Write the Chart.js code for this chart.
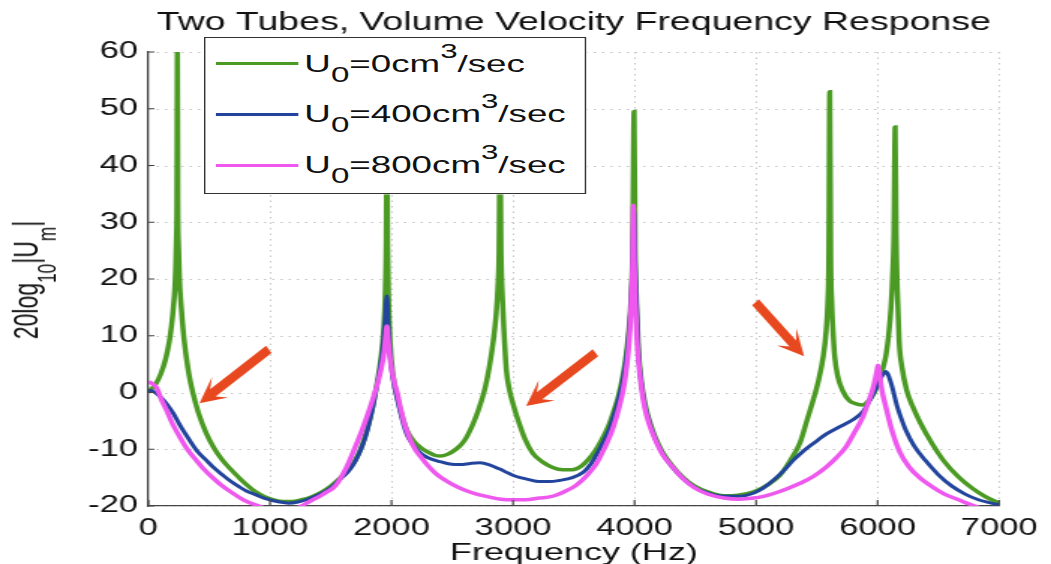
<!DOCTYPE html>
<html>
<head>
<meta charset="utf-8">
<script src="https://cdn.jsdelivr.net/npm/chart.js@4.4.1/dist/chart.umd.min.js"></script>
<style>
  html, body { margin: 0; padding: 0; background: #fff; overflow: hidden; }
  /* the source picture is stretched sideways, so draw narrow and stretch */
  #stage { position: absolute; left: 0; top: 0; width: 701px; height: 564px;
           transform: scaleX(1.4993); transform-origin: 0 0; }
  #stage canvas { position: absolute; left: 0; top: 0; }
  .legend { position: absolute; left: 136px; top: 37px; width: 255px; height: 157px;
            box-sizing: border-box; border: 1.3px solid #333; background: #fff;
            font-family: "Liberation Sans", Arial, sans-serif; font-size: 24.5px; color: #111; }
  .legend .swatch { position: absolute; left: 7px; width: 55px; height: 3px; }
  .legend .label { position: absolute; left: 66px; height: 24px; line-height: 24px; white-space: nowrap; }
  .sub { position: relative; top: 10px; font-size: 0.9em; }
  .sup { position: relative; top: -14px; font-size: 0.85em; }
  #ytitle { position: absolute; left: 19.4px; top: 280px; transform: translate(-50%, -50%) rotate(-90deg);
            font-family: "Liberation Sans", Arial, sans-serif; font-size: 23px; line-height: 23px;
            color: #111; white-space: nowrap; }
  #ytitle .sub { top: 12px; font-size: 0.75em; }
</style>
</head>
<body>
<div id="stage">
  <canvas id="chart" width="701" height="564"></canvas>
  <div id="ytitle">20log<span class="sub">10</span>|U<span class="sub">m</span>|</div>
  <div class="legend" id="legend"></div>
</div>
<script>
// [frequency Hz, dB]
const flowRates = ['0', '400', '800'];
const colors = ['#4b9a23', '#22449c', '#ee58ee'];

const green = [[0,0.1],[60,1.5],[100,3.2],[140,5.8],[170,8.8],[190,11.8],[205,15],[216,18],[224,22],
  [230,27],[234,33],[238,60.5],[242,33],[247,26],[255,20],[270,15],[290,10],[311,6.3],[335,3],[365,0],
  [410,-3.5],[474,-7.1],[540,-9.8],[608,-11.9],[680,-13.6],[745,-15],[810,-16.3],[881,-17.5],[950,-18.3],
  [1030,-18.9],[1110,-19.2],[1180,-19.2],[1260,-18.9],[1340,-18.4],[1422,-17.6],[1500,-16.5],[1570,-15.2],
  [1641,-13.7],[1700,-12],[1760,-9.2],[1800,-6.5],[1845,-2.5],[1880,1.5],[1913,6],[1935,11],[1948,17],
  [1956,26],[1962,45],[1968,26],[1976,16],[1990,8.5],[2010,3.5],[2050,-1],[2090,-4.3],[2130,-6.8],
  [2180,-8.5],[2240,-9.7],[2300,-10.5],[2360,-11.1],[2402,-11.2],[2460,-10.9],[2530,-10],[2580,-9],
  [2619,-7.8],[2665,-5.8],[2700,-4],[2735,-1.8],[2770,0.8],[2805,4.5],[2837,9],[2860,13.5],[2875,18.5],
  [2885,25],[2893,45],[2901,25],[2912,17],[2925,11],[2945,4],[2970,0.5],[3000,-2],[3040,-4.8],[3100,-8.3],
  [3162,-10.7],[3240,-12.2],[3326,-13.2],[3410,-13.6],[3488,-13.6],[3560,-13],[3620,-11.8],[3678,-10.2],
  [3730,-8.3],[3787,-5.8],[3830,-3.2],[3868,-0.6],[3900,2.5],[3930,6.5],[3955,11.5],[3972,17],[3984,25],
  [3996,49.5],[4005,25],[4016,16],[4031,8],[4050,3],[4086,-2],[4130,-5.5],[4167,-7.7],[4230,-10.5],
  [4303,-12.7],[4400,-15],[4493,-16.5],[4600,-17.5],[4737,-18.2],[4850,-18.1],[4982,-17.5],[5100,-16.2],
  [5199,-14.5],[5280,-12],[5362,-8.8],[5420,-4.8],[5470,-1.3],[5510,1.8],[5552,6.3],[5575,10.5],[5590,16],
  [5598,23],[5606,53],[5614,23],[5622,16],[5635,10],[5647,6.3],[5670,3],[5715,0.2],[5770,-1.5],[5823,-2],
  [5878,-2.2],[5920,-1.6],[5960,-0.5],[5986,0.6],[6020,2.5],[6050,4.8],[6068,6.5],[6090,10],[6110,15],
  [6124,21],[6134,28],[6144,46.8],[6152,28],[6162,18],[6177,9],[6200,4.5],[6240,0.3],[6285,-2.3],
  [6350,-5.3],[6448,-9],[6550,-12.2],[6666,-14.9],[6780,-16.9],[6882,-18.3],[7000,-19.5]];

const blue = [[0,0.4],[40,0.2],[94,-0.7],[150,-2],[202,-3.6],[260,-5.8],[338,-8.4],[400,-10.3],
  [474,-11.9],[540,-13.3],[608,-14.5],[680,-15.7],[745,-16.6],[810,-17.4],[881,-18],[950,-18.6],
  [1080,-19.3],[1153,-19.5],[1230,-19.3],[1300,-18.9],[1422,-17.8],[1500,-16.8],[1570,-15.4],[1641,-14],
  [1700,-12.2],[1760,-9.4],[1800,-6.8],[1845,-2.8],[1880,1.2],[1913,5.5],[1935,9.5],[1950,13.5],[1962,17],
  [1972,12.5],[1982,8.5],[1995,5],[2010,2.5],[2050,-1.5],[2090,-5],[2130,-7.6],[2180,-9.3],[2240,-10.7],
  [2300,-11.5],[2402,-12.2],[2480,-12.6],[2565,-12.7],[2650,-12.5],[2728,-12.4],[2800,-12.7],[2891,-13.5],
  [2960,-14.2],[3027,-14.8],[3120,-15.3],[3217,-15.7],[3300,-15.7],[3380,-15.5],[3488,-15],[3580,-14],
  [3640,-12.6],[3678,-11.3],[3730,-9.2],[3787,-6.7],[3830,-4],[3868,-1.2],[3900,1.8],[3930,5.8],
  [3955,11],[3972,16],[3984,23],[3994,32],[4004,23],[4016,15.5],[4031,7.5],[4050,2.6],[4086,-2.4],
  [4130,-5.8],[4167,-8],[4230,-10.8],[4303,-13],[4400,-15.2],[4493,-16.7],[4600,-17.7],[4737,-18.3],
  [4850,-18.3],[4982,-17.7],[5060,-16.8],[5145,-15.4],[5230,-13.7],[5308,-11.9],[5390,-10.3],[5470,-9],
  [5579,-7.3],[5700,-5.9],[5796,-4.8],[5878,-3.4],[5930,-1.6],[5960,-0.4],[5995,1.2],[6020,2.3],
  [6045,3.2],[6066,3.7],[6085,3.2],[6105,2],[6122,0.8],[6160,-2.4],[6200,-4.9],[6231,-6.6],[6300,-9.4],
  [6394,-12],[6500,-14.5],[6611,-16.5],[6720,-17.9],[6829,-18.9],[6920,-19.4],[7000,-19.8]];

const magenta = [[0,1.9],[30,1.6],[67,0.8],[110,-1.4],[148,-3.1],[200,-5.6],[257,-7.8],[320,-10],
  [392,-11.9],[460,-13.6],[528,-15],[610,-16.5],[691,-17.7],[780,-18.9],[881,-19.8],[1000,-20.6],
  [1100,-20.9],[1200,-20.5],[1260,-20],[1343,-19],[1400,-18.4],[1460,-17.6],[1520,-16.8],[1560,-15.8],
  [1630,-13.2],[1700,-9.7],[1760,-6.5],[1831,-2.2],[1880,1.2],[1913,4],[1938,7],[1952,9.8],[1962,11.7],
  [1972,9.5],[1985,6.5],[2000,4.2],[2025,1.6],[2050,-0.3],[2070,-2.4],[2105,-5.4],[2150,-8.1],[2200,-10.2],
  [2240,-11.3],[2300,-12.9],[2360,-14.2],[2430,-15.3],[2500,-16.2],[2600,-17.2],[2700,-17.9],[2800,-18.4],
  [2900,-18.8],[3000,-18.9],[3100,-18.9],[3217,-18.6],[3300,-18.4],[3352,-18.1],[3430,-17.4],[3515,-16.4],
  [3600,-14.8],[3678,-12.8],[3730,-10.8],[3787,-8.2],[3830,-5.8],[3868,-3],[3900,-0.2],[3923,2.6],
  [3945,6.5],[3963,11.5],[3976,17.5],[3984,23],[3990,33],[3997,23],[4006,16],[4018,10],[4031,5.9],
  [4055,1],[4086,-2.9],[4125,-5.9],[4167,-8.2],[4230,-10.9],[4303,-12.9],[4400,-15.2],[4493,-16.8],
  [4600,-17.9],[4737,-18.6],[4860,-18.8],[4982,-18.6],[5060,-18.3],[5145,-17.8],[5250,-17],[5362,-16],
  [5470,-14.8],[5579,-13.1],[5660,-11.5],[5742,-9.5],[5810,-7],[5878,-4.3],[5925,-1.6],[5960,0.6],
  [5983,2.6],[5996,4],[6004,4.8],[6014,3.6],[6026,1.6],[6039,0],[6060,-1.9],[6090,-4.5],[6122,-7],
  [6180,-10.4],[6258,-13.1],[6350,-15.1],[6448,-16.6],[6550,-17.9],[6666,-18.9],[6760,-19.7],
  [6855,-20.4],[7000,-20.8]];

// red annotation arrows: [tail Hz, tail dB, tip Hz, tip dB]
const arrows = [[990, 7.6, 420, -1.9], [3678, 7, 3108, -2.4], [4995, 15.9, 5395, 6.4]];

const STRETCH = 1.4993;
const FONT = '"Liberation Sans", Arial, Helvetica, sans-serif';
const TEXT = '#111';
const GRID = '#c4c4c4';
const AXIS = '#444';

// html legend, it sits on top of the lines like the matlab one
const legend = document.getElementById('legend');
const rowCenters = [25.7, 76.2, 127.2];
flowRates.forEach((rate, i) => {
    const c = rowCenters[i];
    legend.innerHTML += `<div class="swatch" style="top:${c - 1.5}px;background:${colors[i]}"></div>` +
        `<div class="label" style="top:${c - 11.9}px">U<span class="sub">0</span>=${rate}cm<span class="sup">3</span>/sec</div>`;
});

const toXY = arr => arr.map(p => ({ x: p[0], y: p[1] }));

// dotted grid at the scale ticks
const dottedGrid = {
    id: 'dottedGrid',
    beforeDatasetsDraw(chart) {
        const { ctx, chartArea: a, scales: { x, y } } = chart;
        ctx.save();
        ctx.strokeStyle = GRID;
        ctx.lineWidth = 1;
        ctx.setLineDash([1.5, 4]);
        ctx.beginPath();
        x.ticks.forEach(t => {
            const px = Math.round(x.getPixelForValue(t.value)) + 0.5;
            ctx.moveTo(px, a.top);
            ctx.lineTo(px, a.bottom);
        });
        y.ticks.forEach(t => {
            const py = Math.round(y.getPixelForValue(t.value)) + 0.5;
            ctx.moveTo(a.left, py);
            ctx.lineTo(a.right, py);
        });
        ctx.stroke();
        ctx.restore();
    }
};

const arrowPlugin = {
    id: 'arrows',
    afterDatasetsDraw(chart) {
        const { ctx, scales: { x, y } } = chart;
        ctx.save();
        ctx.fillStyle = '#e8481f';
        arrows.forEach(([f0, v0, f1, v1]) => {
            // geometry in on-screen space so the head is not skewed
            const x0 = x.getPixelForValue(f0) * STRETCH, y0 = y.getPixelForValue(v0);
            const x1 = x.getPixelForValue(f1) * STRETCH, y1 = y.getPixelForValue(v1);
            const len = Math.hypot(x1 - x0, y1 - y0);
            const ux = (x1 - x0) / len, uy = (y1 - y0) / len;
            const nx = -uy, ny = ux;
            const head = 26, half = 13, shaft = 4.5, notch = 17;
            const pts = [
                [x0 + nx * shaft, y0 + ny * shaft],
                [x1 - ux * notch + nx * shaft, y1 - uy * notch + ny * shaft],
                [x1 - ux * head + nx * half, y1 - uy * head + ny * half],
                [x1, y1],
                [x1 - ux * head - nx * half, y1 - uy * head - ny * half],
                [x1 - ux * notch - nx * shaft, y1 - uy * notch - ny * shaft],
                [x0 - nx * shaft, y0 - ny * shaft]
            ];
            ctx.beginPath();
            pts.forEach(([px, py], i) => i ? ctx.lineTo(px / STRETCH, py) : ctx.moveTo(px / STRETCH, py));
            ctx.closePath();
            ctx.fill();
        });
        ctx.restore();
    }
};

// matlab style ticks pointing into the plot
const inwardTicks = {
    id: 'inwardTicks',
    afterDatasetsDraw(chart) {
        const { ctx, chartArea: a, scales: { x, y } } = chart;
        ctx.save();
        ctx.strokeStyle = AXIS;
        ctx.lineWidth = 1.2;
        ctx.beginPath();
        x.ticks.forEach(t => {
            const px = x.getPixelForValue(t.value);
            ctx.moveTo(px, a.bottom);
            ctx.lineTo(px, a.bottom - 6);
        });
        y.ticks.forEach(t => {
            const py = y.getPixelForValue(t.value);
            ctx.moveTo(a.left, py);
            ctx.lineTo(a.left + 4, py);
        });
        ctx.stroke();
        ctx.restore();
    }
};

const series = [green, blue, magenta];
const widths = [3.5, 3, 3.5];

new Chart(document.getElementById('chart'), {
    type: 'line',
    data: {
        datasets: series.map((s, i) => ({
            label: 'U0=' + flowRates[i] + 'cm3/sec',
            data: toXY(s),
            borderColor: colors[i],
            borderWidth: widths[i],
            pointRadius: 0,
            fill: false,
            order: 3 - i
        }))
    },
    options: {
        responsive: false,
        animation: false,
        elements: { line: { cubicInterpolationMode: 'monotone' } },
        layout: { padding: { left: 0, right: 29, top: 0, bottom: 0 } },
        plugins: {
            legend: { display: false },
            tooltip: { enabled: false },
            title: {
                display: true,
                fullSize: false,
                text: 'Two Tubes, Volume Velocity Frequency Response',
                color: TEXT,
                font: { family: FONT, size: 25, weight: 'normal' },
                padding: { top: 8, bottom: 14 }
            }
        },
        scales: {
            x: {
                type: 'linear',
                min: 0,
                max: 7000,
                ticks: { stepSize: 1000, color: TEXT, font: { family: FONT, size: 23 }, padding: 9,
                         maxRotation: 0, callback: v => String(v) },
                grid: { display: false, drawTicks: false },
                border: { display: true, color: AXIS, width: 1.3 },
                title: { display: true, text: 'Frequency (Hz)', color: TEXT,
                         font: { family: FONT, size: 24 }, padding: { top: 0, bottom: -4 } },
                afterFit: s => { s.height = 58; }
            },
            y: {
                type: 'linear',
                min: -20,
                max: 60,
                ticks: { stepSize: 10, color: TEXT, font: { family: FONT, size: 23 }, padding: 7,
                         callback: v => String(v) },
                grid: { display: false, drawTicks: false },
                border: { display: true, color: AXIS, width: 1.3 },
                afterFit: s => { s.width = 99; }
            }
        }
    },
    plugins: [dottedGrid, arrowPlugin, inwardTicks]
});
</script>
</body>
</html>
